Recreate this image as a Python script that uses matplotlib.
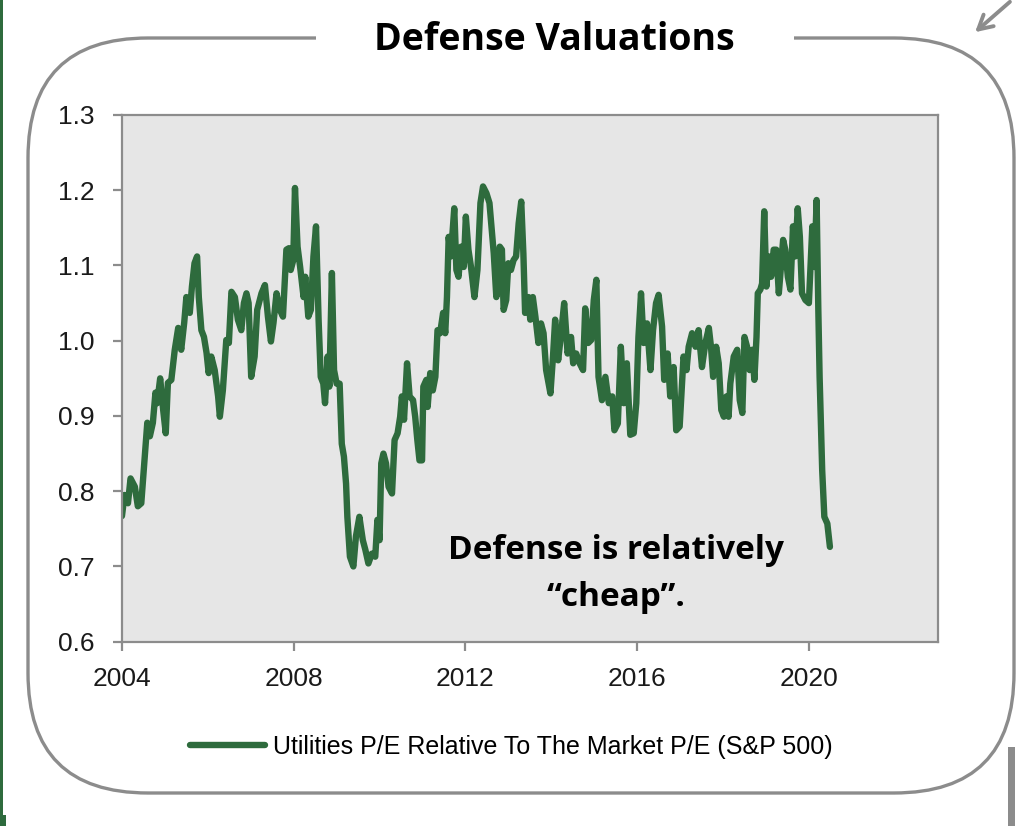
"""Defense Valuations: utilities P/E relative to the S&P 500 P/E, 2004-2020."""
import matplotlib

matplotlib.use("Agg")
import matplotlib.pyplot as plt
from matplotlib.patches import FancyBboxPatch, Rectangle

# (decimal year, relative P/E)
YEARS = [
    2004.00, 2004.06, 2004.14, 2004.20, 2004.30, 2004.37, 2004.45, 2004.53, 2004.59, 2004.65,
    2004.72, 2004.78, 2004.82, 2004.89, 2004.96, 2005.02, 2005.07, 2005.15, 2005.23, 2005.31,
    2005.38, 2005.45, 2005.50, 2005.58, 2005.63, 2005.69, 2005.75, 2005.79, 2005.85, 2005.91,
    2005.97, 2006.02, 2006.08, 2006.16, 2006.24, 2006.28, 2006.35, 2006.43, 2006.49, 2006.55,
    2006.63, 2006.70, 2006.78, 2006.84, 2006.90, 2006.95, 2007.01, 2007.09, 2007.15, 2007.25,
    2007.33, 2007.40, 2007.47, 2007.53, 2007.60, 2007.68, 2007.75, 2007.83, 2007.89, 2007.93,
    2007.99, 2008.03, 2008.09, 2008.15, 2008.23, 2008.27, 2008.34, 2008.40, 2008.46, 2008.52,
    2008.58, 2008.63, 2008.69, 2008.73, 2008.79, 2008.83, 2008.89, 2008.94, 2009.00, 2009.07,
    2009.12, 2009.17, 2009.22, 2009.25, 2009.31, 2009.39, 2009.45, 2009.53, 2009.61, 2009.67,
    2009.74, 2009.82, 2009.90, 2009.95, 2010.00, 2010.04, 2010.09, 2010.15, 2010.21, 2010.29,
    2010.35, 2010.42, 2010.48, 2010.52, 2010.57, 2010.64, 2010.70, 2010.78, 2010.83, 2010.88,
    2010.93, 2010.99, 2011.02, 2011.09, 2011.12, 2011.18, 2011.24, 2011.30, 2011.35, 2011.41,
    2011.48, 2011.53, 2011.57, 2011.61, 2011.66, 2011.74, 2011.79, 2011.84, 2011.90, 2011.96,
    2012.01, 2012.07, 2012.13, 2012.21, 2012.28, 2012.35, 2012.41, 2012.49, 2012.56, 2012.66,
    2012.72, 2012.80, 2012.85, 2012.89, 2012.95, 2013.00, 2013.06, 2013.12, 2013.18, 2013.24,
    2013.30, 2013.35, 2013.39, 2013.47, 2013.51, 2013.57, 2013.63, 2013.70, 2013.76, 2013.82,
    2013.88, 2013.98, 2014.04, 2014.09, 2014.16, 2014.23, 2014.30, 2014.38, 2014.46, 2014.51,
    2014.58, 2014.66, 2014.74, 2014.79, 2014.86, 2014.93, 2014.99, 2015.05, 2015.10, 2015.18,
    2015.26, 2015.34, 2015.42, 2015.47, 2015.55, 2015.62, 2015.69, 2015.76, 2015.84, 2015.92,
    2015.98, 2016.03, 2016.09, 2016.15, 2016.23, 2016.31, 2016.37, 2016.44, 2016.50, 2016.58,
    2016.63, 2016.71, 2016.77, 2016.85, 2016.91, 2016.99, 2017.08, 2017.15, 2017.20, 2017.28,
    2017.36, 2017.43, 2017.51, 2017.59, 2017.67, 2017.72, 2017.77, 2017.84, 2017.90, 2017.96,
    2018.02, 2018.08, 2018.13, 2018.17, 2018.25, 2018.33, 2018.39, 2018.45, 2018.50, 2018.56,
    2018.62, 2018.68, 2018.73, 2018.78, 2018.81, 2018.87, 2018.91, 2018.96, 2019.01, 2019.07,
    2019.12, 2019.18, 2019.24, 2019.30, 2019.35, 2019.40, 2019.45, 2019.51, 2019.57, 2019.63,
    2019.68, 2019.74, 2019.79, 2019.84, 2019.92, 2020.00, 2020.08, 2020.13, 2020.18, 2020.22,
    2020.25, 2020.31, 2020.36, 2020.43, 2020.49,
]
REL_PE = [
    0.767, 0.795, 0.784, 0.817, 0.806, 0.780, 0.784, 0.846, 0.891, 0.873,
    0.891, 0.931, 0.917, 0.950, 0.908, 0.877, 0.944, 0.948, 0.988, 1.017,
    0.988, 1.024, 1.058, 1.037, 1.072, 1.103, 1.112, 1.058, 1.014, 1.005,
    0.984, 0.957, 0.979, 0.961, 0.926, 0.899, 0.934, 1.001, 0.997, 1.065,
    1.058, 1.028, 1.014, 1.050, 1.063, 1.050, 0.952, 0.979, 1.041, 1.063,
    1.074, 1.032, 0.999, 1.024, 1.063, 1.041, 1.032, 1.121, 1.123, 1.094,
    1.107, 1.203, 1.125, 1.098, 1.058, 1.085, 1.032, 1.041, 1.112, 1.152,
    1.028, 0.952, 0.943, 0.917, 0.979, 0.939, 1.090, 0.961, 0.943, 0.943,
    0.863, 0.846, 0.810, 0.766, 0.713, 0.700, 0.740, 0.766, 0.735, 0.722,
    0.704, 0.717, 0.713, 0.762, 0.735, 0.837, 0.850, 0.837, 0.806, 0.797,
    0.868, 0.877, 0.899, 0.926, 0.895, 0.970, 0.926, 0.921, 0.899, 0.868,
    0.841, 0.841, 0.939, 0.948, 0.912, 0.957, 0.934, 0.952, 1.014, 1.010,
    1.037, 1.010, 1.058, 1.138, 1.112, 1.176, 1.094, 1.085, 1.125, 1.098,
    1.165, 1.121, 1.098, 1.058, 1.094, 1.183, 1.205, 1.196, 1.183, 1.116,
    1.058, 1.125, 1.121, 1.041, 1.054, 1.103, 1.094, 1.107, 1.112, 1.156,
    1.185, 1.116, 1.037, 1.058, 1.028, 1.058, 1.032, 0.997, 1.023, 1.010,
    0.961, 0.930, 0.979, 1.028, 0.974, 1.010, 1.050, 0.983, 1.005, 0.970,
    0.983, 0.970, 0.961, 1.043, 0.997, 1.001, 1.054, 1.081, 0.952, 0.921,
    0.952, 0.917, 0.926, 0.881, 0.890, 0.992, 0.917, 0.970, 0.875, 0.877,
    0.917, 1.005, 1.063, 0.997, 1.023, 0.961, 1.014, 1.050, 1.061, 1.019,
    0.948, 0.983, 0.926, 0.965, 0.881, 0.886, 0.979, 0.961, 0.992, 1.010,
    0.992, 1.014, 0.965, 0.997, 1.017, 0.992, 0.952, 0.992, 0.970, 0.908,
    0.899, 0.926, 0.899, 0.943, 0.979, 0.988, 0.921, 0.904, 1.005, 0.992,
    0.961, 0.988, 0.948, 1.005, 1.063, 1.068, 1.076, 1.172, 1.072, 1.112,
    1.085, 1.121, 1.121, 1.063, 1.098, 1.134, 1.121, 1.085, 1.068, 1.152,
    1.112, 1.176, 1.138, 1.063, 1.054, 1.050, 1.152, 1.098, 1.187, 1.041,
    0.952, 0.828, 0.766, 0.757, 0.726,
]
X_TICKS = [2004, 2008, 2012, 2016, 2020]
Y_TICKS = [0.6, 0.7, 0.8, 0.9, 1.0, 1.1, 1.2, 1.3]
SERIES_LABEL = "Utilities P/E Relative To The Market P/E (S&P 500)"
TITLE = "Defense Valuations"
NOTE = "Defense is relatively\n\u201ccheap\u201d."

GREEN = "#2E6B3D"
FRAME = "#8C8C8C"
PANEL = "#E6E6E6"
INK = "#1A1A1A"
TICK_FONT = "Liberation Sans"
BOLD_FONT = "Open Sans"


def draw_frame(fig):
    """Rounded outline around the chart plus the screenshot edge bits, in pixel coords."""
    deco = fig.add_axes([0, 0, 1, 1], zorder=-1)
    deco.set_xlim(0, 1024)
    deco.set_ylim(826, 0)
    deco.axis("off")
    deco.add_patch(FancyBboxPatch((28, 38), 986, 755,
                                  boxstyle="round,pad=0,rounding_size=120",
                                  fc="none", ec=FRAME, lw=2.4))
    # gap in the top edge for the title
    deco.add_patch(Rectangle((316, 30), 478, 16, fc="white", ec="none"))
    # screenshot leftovers: green edge, grey scroll bar, corner arrow
    deco.add_patch(Rectangle((0, 0), 2.5, 826, fc=GREEN, ec="none"))
    deco.add_patch(Rectangle((0, 815), 6, 11, fc=GREEN, ec="none"))
    deco.add_patch(Rectangle((1008, 747), 7, 79, fc=FRAME, ec="none"))
    deco.annotate("", xy=(973, 34), xytext=(1012, 0),
                  arrowprops=dict(arrowstyle="->,head_length=1.0,head_width=0.55",
                                  color=FRAME, lw=2.8))


def main():
    fig = plt.figure(figsize=(10.24, 8.26), dpi=100)
    draw_frame(fig)

    ax = fig.add_axes([0.1191, 0.2231, 0.7966, 0.6377])
    ax.set_facecolor(PANEL)
    ax.plot(YEARS, REL_PE, color=GREEN, lw=4.6, solid_joinstyle="round",
            solid_capstyle="round", label=SERIES_LABEL)

    ax.set_xlim(2004, 2023)
    ax.set_ylim(0.6, 1.3)
    ax.set_xticks(X_TICKS)
    ax.set_yticks(Y_TICKS)
    ax.set_yticklabels([f"{v:.1f}" for v in Y_TICKS])
    for s in ax.spines.values():
        s.set_color(FRAME)
        s.set_linewidth(1.6)
    ax.tick_params(axis="both", direction="out", color=FRAME, width=1.6, length=6.5,
                   labelsize=19, labelcolor=INK)
    ax.tick_params(axis="y", pad=13)
    ax.tick_params(axis="x", pad=12)
    for lab in ax.get_xticklabels() + ax.get_yticklabels():
        lab.set_fontfamily(TICK_FONT)

    ax.text(0.606, 0.129, NOTE, transform=ax.transAxes, ha="center", va="center",
            fontsize=24, fontweight="bold", family=BOLD_FONT, color="black",
            linespacing=1.55)

    fig.text(554.5 / 1024, 1 - 40 / 826, TITLE, ha="center", va="center", fontsize=27,
             fontweight="bold", family=BOLD_FONT, color="black")

    fig.legend(loc="center", bbox_to_anchor=(0.4995, 1 - 747 / 826), frameon=False,
               handlelength=3.0, handletextpad=0.3,
               prop=dict(family=TICK_FONT, size=18))

    fig.savefig("out.png", dpi=100, facecolor="white")
    plt.close(fig)


if __name__ == "__main__":
    main()
